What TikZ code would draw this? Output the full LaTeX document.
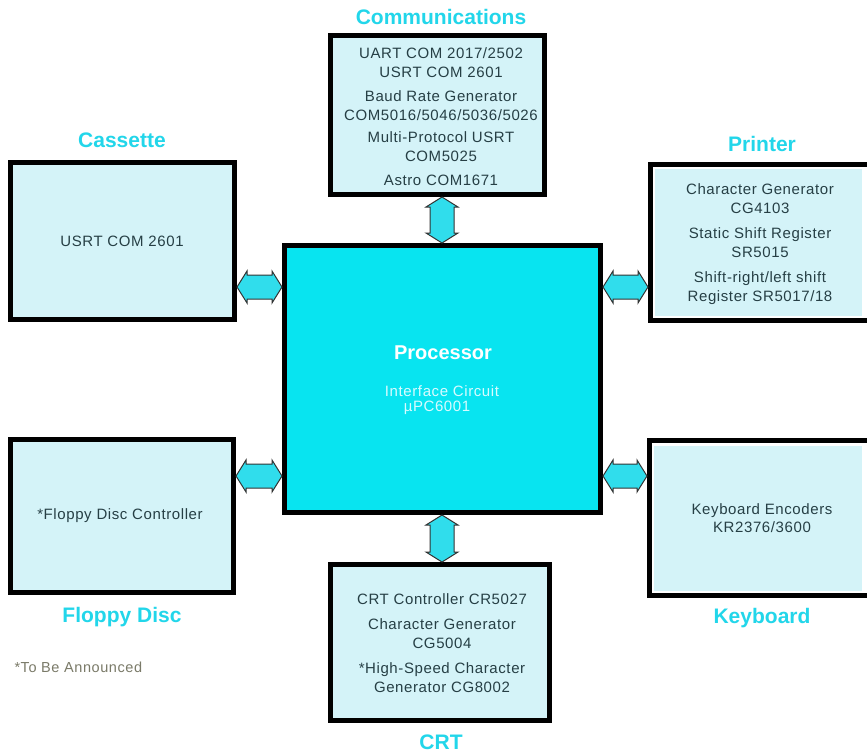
\documentclass[tikz,border=0pt]{standalone}
\usepackage{fontspec}
\setmainfont{Liberation Sans}[LetterSpace=4]
\newfontfamily\lblfont{Liberation Sans}
\usetikzlibrary{calc}
\definecolor{lblc}{HTML}{22D6EA}
\definecolor{boxfill}{HTML}{D4F3F8}
\definecolor{procfill}{HTML}{08E4F0}
\definecolor{txt}{HTML}{263F45}
\definecolor{arrfill}{HTML}{30DDEC}
\definecolor{notec}{HTML}{7A7A68}
\definecolor{proctxt}{HTML}{D8FBFF}
\tikzset{
 box/.style={draw=black, line width=5pt, fill=boxfill, inner sep=0pt},
 flat/.style={inner sep=0pt, outer sep=0pt},
 lbl/.style={text=lblc, font=\lblfont\fontsize{21}{24}\selectfont\bfseries},
 body/.style={text=txt, align=center, font=\fontsize{15}{18.5}\selectfont},
 blk/.style={fill=arrfill, draw=black!80, line width=1pt, line join=miter},
}
\newcommand\harrow[3]{%
 \draw[blk] (#1.east |- #3) -- ++(10,-16) -- ++(0,4) -- ($(#2.west |- #3)+(-10,-12)$) -- ++(0,-4) -- (#2.west |- #3) -- ++(-10,16) -- ++(0,-4) -- ($(#1.east |- #3)+(10,12)$) -- ++(0,4) -- cycle;}
\newcommand\varrow[3]{%
 \draw[blk] (#1.south -| #3) -- ++(16,10) -- ++(-4,0) -- ($(#2.north -| #3)+(12,-10)$) -- ++(4,0) -- (#2.north -| #3) -- ++(-16,-10) -- ++(4,0) -- ($(#1.south -| #3)+(-12,10)$) -- ++(-4,0) -- cycle;}
\begin{document}
\begin{tikzpicture}[x=1pt,y=-1pt]
\useasboundingbox[fill=white] (0,0) rectangle (867,753);

% boxes
\node[box, minimum width=214, minimum height=159] (comm) at (437.5,115) {};
\node[box, minimum width=224, minimum height=157] (cas) at (122.5,241) {};
\node[box, minimum width=223, minimum height=153] (flp) at (122,516) {};
\node[box, fill=procfill, minimum width=316, minimum height=267] (proc) at (442.5,379) {};
\node[box, minimum width=219, minimum height=156] (crt) at (440,642.5) {};

% printer (frame open at right)
\node[flat, fill=black, minimum width=219, minimum height=161] (prt) at (757.5,242.5) {};
\node[flat, fill=white, minimum width=214, minimum height=151] (prtw) at (760,242.5) {};
\node[flat, fill=boxfill, minimum width=207, minimum height=147] (prti) at (758.5,242.5) {};
% keyboard
\node[flat, fill=black, minimum width=220, minimum height=160] (kbd) at (757,518) {};
\node[flat, fill=white, minimum width=215, minimum height=150] (kbdw) at (759.5,518) {};
\node[flat, fill=boxfill, minimum width=208, minimum height=145] (kbdi) at (758,518.5) {};

% labels
\node[lbl] (lcomm) at (441,17) {Communications};
\node[lbl] (lcas) at (122,140) {Cassette};
\node[lbl] (lprt) at (762,144) {Printer};
\node[lbl] (lflp) at (122,617) {Floppy Disc};
\node[lbl] (lkbd) at (762,618) {Keyboard};
\node[lbl] (lcrt) at (441,742) {CRT};

% box texts
\node[body] (tcomm) at (441,117) {UART COM 2017/2502\\USRT COM 2601\\[6pt]Baud Rate Generator\\COM5016/5046/5036/5026\\[4pt]Multi-Protocol USRT\\COM5025\\[6pt]Astro COM1671};
\node[body] (tcas) at (122,241) {USRT COM 2601};
\node[body] (tflp) at (120,516) {*Floppy Disc Controller};
\node[body] (tprt) at (760,244) {Character Generator\\CG4103\\[7pt]Static Shift Register\\SR5015\\[7pt]Shift-right/left shift\\Register SR5017/18};
\node[body] (tkbd) at (762,518) {Keyboard Encoders\\KR2376/3600};
\node[body] (tcrt) at (442,643) {CRT Controller CR5027\\[7pt]Character Generator\\CG5004\\[7pt]*High-Speed Character\\Generator CG8002};

% processor texts
\node[text=white, font=\lblfont\fontsize{20}{24}\selectfont\bfseries] (tproc) at (443,353) {Processor};
\node[text=proctxt, font=\fontsize{15}{18}\selectfont] (tif) at (442,391) {Interface Circuit};
\node[text=proctxt, font=\fontsize{15}{18}\selectfont] (tpc) at (437,408) {µPC6001};

% note
\node[text=notec, font=\fontsize{14.5}{17}\selectfont, anchor=west] (note) at (11,667) {*To Be Announced};

% arrows
\coordinate (ya) at (0,287);
\coordinate (yb) at (0,476);
\coordinate (xa) at (442,0);
\harrow{cas}{proc}{ya}
\harrow{flp}{proc}{yb}
\harrow{proc}{prt}{ya}
\harrow{proc}{kbd}{yb}
\varrow{comm}{proc}{xa}
\varrow{proc}{crt}{xa}
\end{tikzpicture}
\end{document}
